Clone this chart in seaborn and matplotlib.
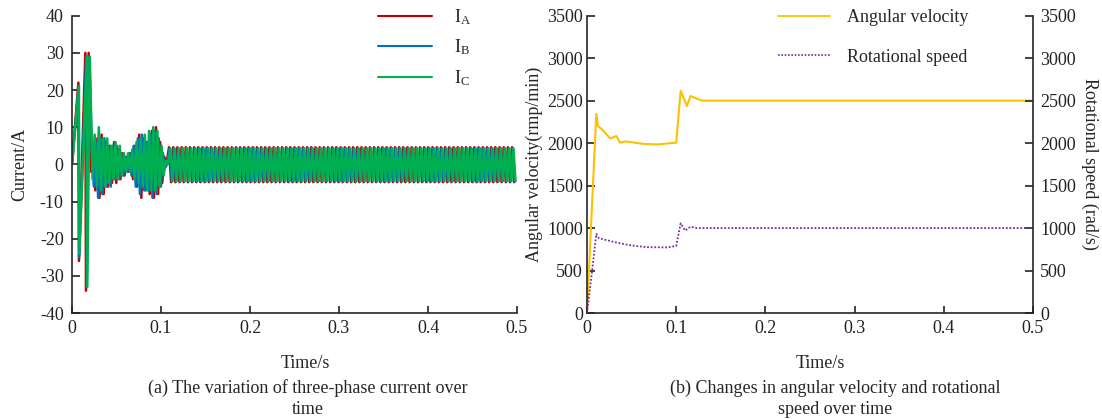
import numpy as np
import pandas as pd
import matplotlib
matplotlib.use("Agg")
import matplotlib.pyplot as plt
import seaborn as sns
from matplotlib.lines import Line2D

# ---------------- data ----------------
# Phase currents: start-up spikes (time, value)
ia_start_t = [0.0, 0.0072, 0.0078, 0.0150, 0.0157, 0.0187]
ia_start_v = [0, 22, -26, 30, -34, 30]
ib_start_t = [0.0, 0.0075, 0.0080, 0.0160, 0.0165, 0.0195]
ib_start_v = [0, 21, -25, 29, -33, 29]
ic_start_t = [0.0, 0.0078, 0.0083, 0.0168, 0.0172, 0.0200]
ic_start_v = [0, 21, -24, 29, -33, 29]

# transient peaks (one value per half period, from t = 0.0215 s)
ia_trans = [-2, 5, -7, 7, -9, 8, -8, 6, -6, 5, -5, 6, -5, 4, -4, 3, -3, 2, -2,
            3, -4, 5, -6, 8, -9, 7, -7, 6, -8, 9, -9, 10, -8, 6, -5, 2, 0]
ib_trans = [3, -6, 6, -9, 7, -8, 7, -6, 5, -6, 5, -4, 5, -4, 3, -3, 2, -2, 3,
            -3, 5, -6, 7, -8, 8, -7, 6, -7, 8, -9, 9, -8, 7, -6, 3, -1, 0]
ic_trans = [-4, 8, -6, 10, -7, 7, -6, 7, -5, 5, -4, 6, -4, 5, -3, 3, -2, 3, -2,
            4, -4, 6, -5, 7, -6, 8, -7, 9, -7, 10, -7, 9, -6, 5, -3, 1, 0]

# steady-state peaks (constant amplitude, from t = 0.109 s)
ia_steady = [4.6, -4.8] * 83
ib_steady = [4.4, -4.6] * 83
ic_steady = [4.3, -4.5] * 83

half_period = 0.00235
phase_shift = {"A": 0.0, "B": 0.0008, "C": 0.0016}

# Angular velocity (rpm) and rotational speed
av_t = [0.0, 0.0104, 0.0123, 0.018, 0.026, 0.033, 0.037, 0.043, 0.064, 0.079,
        0.100, 0.105, 0.112, 0.116, 0.129, 0.5]
av_v = [0, 2345, 2200, 2150, 2055, 2083, 2005, 2020, 1990, 1985,
        2005, 2617, 2436, 2554, 2500, 2500]
rs_t = [0.0, 0.0056, 0.0104, 0.0134, 0.025, 0.037, 0.050, 0.067, 0.090, 0.100,
        0.105, 0.110, 0.116, 0.123, 0.5]
rs_v = [0, 486, 930, 880, 850, 820, 795, 775, 772, 790,
        1055, 970, 1015, 1000, 1000]

# ---------------- assemble ----------------
def phase_frame(name, st_t, st_v, tr_v, ss_v):
    off = phase_shift[name]
    t_tr = 0.0215 + off + half_period * np.arange(len(tr_v))
    t_ss = 0.109 + off + half_period * np.arange(len(ss_v))
    t = np.concatenate([st_t, t_tr, t_ss])
    v = np.concatenate([st_v, tr_v, ss_v])
    return pd.DataFrame({"t": t, "v": v})

dfA = phase_frame("A", ia_start_t, ia_start_v, ia_trans, ia_steady)
dfB = phase_frame("B", ib_start_t, ib_start_v, ib_trans, ib_steady)
dfC = phase_frame("C", ic_start_t, ic_start_v, ic_trans, ic_steady)

sns.set_theme(style="ticks")
plt.rcParams["font.family"] = ["Liberation Serif", "DejaVu Serif"]
plt.rcParams["mathtext.fontset"] = "custom"
plt.rcParams["mathtext.rm"] = "Liberation Serif"
plt.rcParams["mathtext.it"] = "Liberation Serif:italic"
plt.rcParams["font.size"] = 13
plt.rcParams["axes.linewidth"] = 1.2
plt.rcParams["axes.unicode_minus"] = False
plt.rcParams["xtick.direction"] = "in"
plt.rcParams["ytick.direction"] = "in"

W, H = 1102, 419
fig = plt.figure(figsize=(W / 100, H / 100), dpi=100)

def fx(px):
    return px / W

def fy(py):
    return 1 - py / H

# ---------------- left panel ----------------
ax1 = fig.add_axes([fx(72), fy(313), (517 - 72) / W, (313 - 15.7) / H])
red, blue, green = "#C00000", "#0070C0", "#00B050"
sns.lineplot(data=dfA, x="t", y="v", ax=ax1, color=red, lw=1.8, estimator=None,
             sort=False, label=r"I$_{\mathrm{A}}$")
sns.lineplot(data=dfB, x="t", y="v", ax=ax1, color=blue, lw=1.8, estimator=None,
             sort=False, label=r"I$_{\mathrm{B}}$")
sns.lineplot(data=dfC, x="t", y="v", ax=ax1, color=green, lw=1.8, estimator=None,
             sort=False, label=r"I$_{\mathrm{C}}$")
ax1.set_xlim(0, 0.5)
ax1.set_ylim(-40, 40)
ax1.set_xticks([0, 0.1, 0.2, 0.3, 0.4, 0.5])
ax1.set_xticklabels(["0", "0.1", "0.2", "0.3", "0.4", "0.5"])
ax1.set_yticks(range(-40, 41, 10))
ax1.tick_params(axis="y", length=6, width=1.2, pad=6, labelsize=13, colors="#222222")
ax1.tick_params(axis="x", length=5, width=1.2, pad=5, labelsize=13, colors="#222222")
for s in ["top", "right"]:
    ax1.spines[s].set_visible(False)
ax1.set_xlabel("")
ax1.set_ylabel("Current/A", fontsize=13, labelpad=8)
leg1 = ax1.legend(loc="upper left", bbox_to_anchor=(fx(378), fy(7)),
                  bbox_transform=fig.transFigure, frameon=False, fontsize=13,
                  handlelength=3.0, handletextpad=1.2, labelspacing=0.6,
                  borderpad=0, borderaxespad=0)
for h in leg1.get_lines():
    h.set_linewidth(1.5)

# ---------------- right panel ----------------
ax2 = fig.add_axes([fx(587), fy(313), (1033 - 587) / W, (313 - 15.7) / H])
ax3 = ax2.twinx()
gold, purple = "#FFC000", "#7030A0"
dfAV = pd.DataFrame({"t": av_t, "v": av_v})
dfRS = pd.DataFrame({"t": rs_t, "v": rs_v})
sns.lineplot(data=dfAV, x="t", y="v", ax=ax2, color=gold, lw=1.5, estimator=None,
             sort=False, legend=False)
sns.lineplot(data=dfRS, x="t", y="v", ax=ax3, color=purple, lw=1.3, estimator=None,
             sort=False, legend=False, linestyle=(0, (1, 1)))
for a in (ax2, ax3):
    a.set_xlim(0, 0.5)
    a.set_ylim(0, 3500)
    a.set_yticks(range(0, 3501, 500))
    a.spines["top"].set_visible(False)
ax2.spines["right"].set_visible(False)
ax3.spines["left"].set_visible(False)
ax3.spines["bottom"].set_visible(False)
ax2.set_xticks([0, 0.1, 0.2, 0.3, 0.4, 0.5])
ax2.set_xticklabels(["0", "0.1", "0.2", "0.3", "0.4", "0.5"])
ax2.tick_params(axis="y", length=6, width=1.2, pad=3, labelsize=13, colors="#222222")
ax2.tick_params(axis="x", length=5, width=1.2, pad=5, labelsize=13, colors="#222222")
ax3.tick_params(axis="y", length=6, width=1.2, pad=5, labelsize=13, colors="#222222")
ax2.set_xlabel("")
ax2.set_ylabel("Angular velocity(rmp/min)", fontsize=13, labelpad=3)
ax3.set_ylabel("Rotational speed (rad/s)", fontsize=13, rotation=270, labelpad=16)

handles = [Line2D([], [], color=gold, lw=1.3),
           Line2D([], [], color=purple, lw=1.2, linestyle=(0, (1, 1)))]
ax2.legend(handles, ["Angular velocity", "Rotational speed"], loc="upper left",
           bbox_to_anchor=(fx(778), fy(9)), bbox_transform=fig.transFigure,
           frameon=False, fontsize=13, handlelength=2.9, handletextpad=0.9,
           labelspacing=1.25, borderpad=0, borderaxespad=0)

# ---------------- x labels and captions ----------------
for cx, ccx, lines in [(305, 308, ["(a) The variation of three-phase current over", "time"]),
                       (820, 835, ["(b) Changes in angular velocity and rotational", "speed over time"])]:
    fig.text(fx(cx), fy(363), "Time/s", ha="center", va="center", fontsize=13)
    fig.text(fx(ccx), fy(388), lines[0], ha="center", va="center", fontsize=13)
    fig.text(fx(ccx), fy(409), lines[1], ha="center", va="center", fontsize=13)

fig.savefig("out.png", dpi=100)
